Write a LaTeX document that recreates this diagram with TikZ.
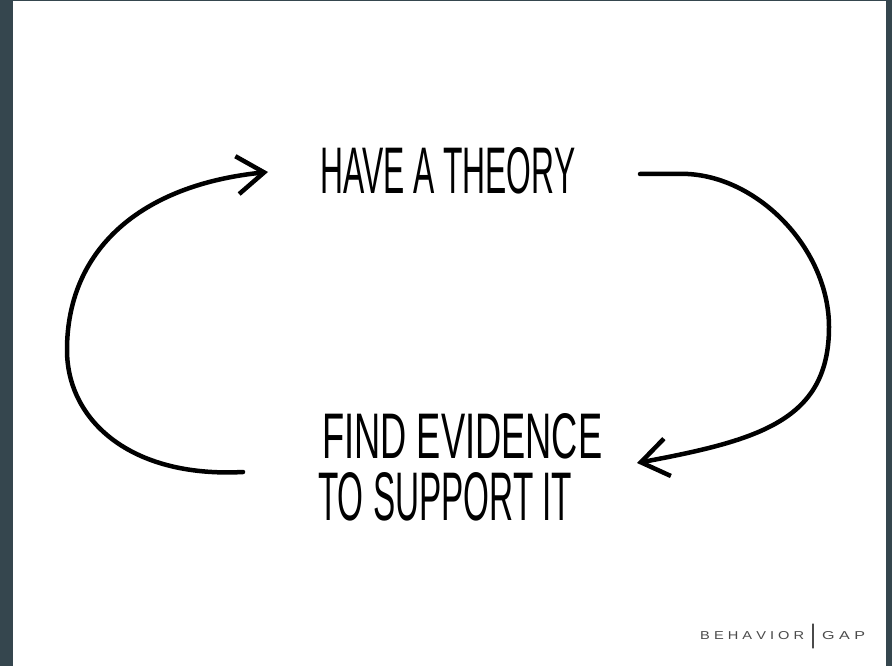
\documentclass[tikz,border=0pt]{standalone}
\usepackage{fontspec}
\setmainfont{Liberation Sans}
\usetikzlibrary{arrows.meta}

\definecolor{frame}{HTML}{35464E}
\definecolor{logo}{HTML}{4A4A4A}

\begin{document}
\begin{tikzpicture}[x=1pt,y=-1pt,line cap=round,line join=round,
  loop/.style={line width=4.5pt,black},
  barb/.style={-{Straight Barb[length=27pt,width=38pt,line width=4.5pt]}},
  words/.style={inner sep=0pt,anchor=base west}]

% parameters
\def\W{892}   % page width
\def\H{666}   % page height

% frame and paper
\fill[frame] (0,0) rectangle (\W,\H);
\fill[white] (13,1) rectangle (886,\H);
\useasboundingbox (0,0) rectangle (\W,\H);

% the two statements
\node[words] (theory) at (320,194) {\resizebox{255pt}{46pt}{HAVE A THEORY}};
\node[words] (find)   at (322,458) {\resizebox{280pt}{45pt}{FIND EVIDENCE}};
\node[words] (support) at (318,520) {\resizebox{254pt}{48pt}{TO SUPPORT IT}};

% ends of the loop arrows
\coordinate (lstart) at (243,472);
\coordinate (ltip)   at (268,172);
\coordinate (rstart) at (640,174);
\coordinate (rtip)   at (637,463);

% left arrow: evidence back up to theory
\draw[loop,barb] (lstart) .. controls (130,478) and (67,420) .. (67,350)
  .. controls (67,250) and (140,185) .. (ltip);

% right arrow: theory down to evidence
\draw[loop,barb] (rstart) -- (688,174) .. controls (760,178) and (829,250) .. (829,327)
  .. controls (829,420) and (760,440) .. (rtip);

% logo
\node[inner sep=0pt,anchor=base west,text=logo] (behavior) at (700,639)
  {\resizebox{104pt}{8pt}{B E H A V I O R}};
\node[inner sep=0pt,anchor=base west,text=logo] (gap) at (822,639)
  {\resizebox{43pt}{8pt}{G A P}};
\draw[logo,line width=1.2pt] (813,624) -- (813,648);

\end{tikzpicture}
\end{document}
